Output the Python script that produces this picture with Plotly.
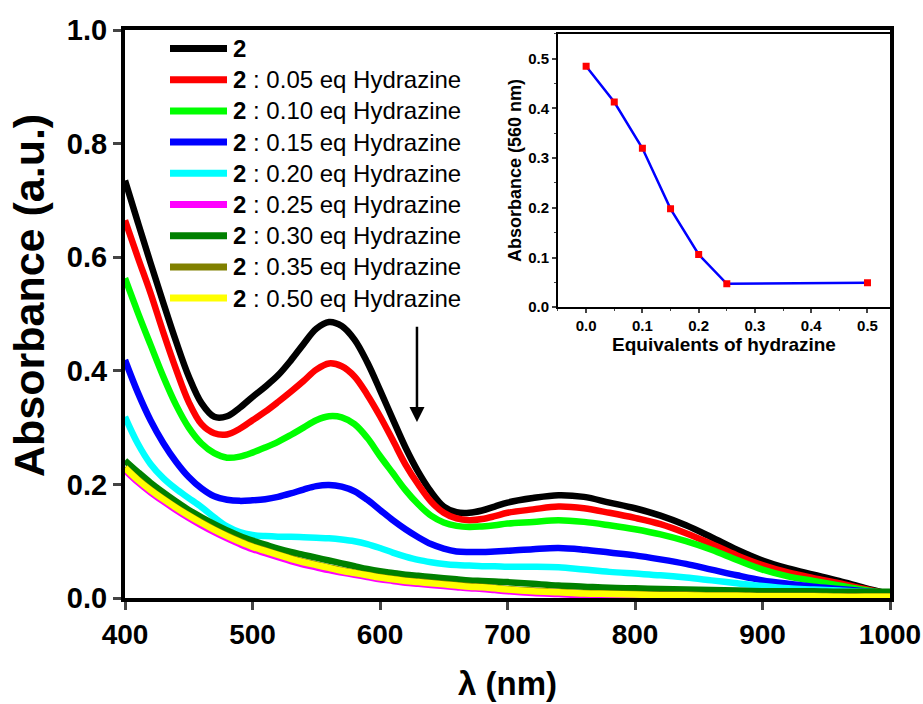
import plotly.graph_objects as go

# ---------------- data ----------------
wavelength = [400, 410, 420, 430, 440, 450, 460, 470, 480, 490, 500, 510, 520, 530, 540, 550,
              560, 570, 580, 590, 600, 610, 620, 630, 640, 650, 660, 670, 680, 690, 700,
              720, 740, 760, 780, 800, 820, 840, 860, 880, 900, 920, 940, 960, 980, 1000]

abs_2 = [0.735, 0.662, 0.590, 0.520, 0.452, 0.390, 0.343, 0.319, 0.320, 0.335, 0.354, 0.372, 0.392, 0.418, 0.447, 0.474,
         0.486, 0.479, 0.455, 0.415, 0.366, 0.315, 0.265, 0.222, 0.187, 0.161, 0.151, 0.150, 0.154, 0.161, 0.168,
         0.176, 0.181, 0.178, 0.168, 0.158, 0.145, 0.128, 0.107, 0.085, 0.066, 0.052, 0.041, 0.030, 0.018, 0.007]
abs_005 = [0.665, 0.600, 0.537, 0.468, 0.403, 0.345, 0.306, 0.290, 0.288, 0.298, 0.313, 0.328, 0.345, 0.363, 0.382, 0.402,
           0.413, 0.408, 0.390, 0.358, 0.320, 0.278, 0.235, 0.200, 0.170, 0.150, 0.140, 0.137, 0.139, 0.144, 0.150,
           0.156, 0.161, 0.158, 0.150, 0.141, 0.130, 0.114, 0.095, 0.075, 0.058, 0.045, 0.035, 0.026, 0.016, 0.007]
abs_010 = [0.563, 0.503, 0.446, 0.390, 0.340, 0.300, 0.272, 0.255, 0.247, 0.249, 0.256, 0.265, 0.275, 0.287, 0.300, 0.313,
           0.320, 0.318, 0.306, 0.282, 0.250, 0.220, 0.190, 0.165, 0.145, 0.133, 0.127, 0.125, 0.126, 0.128, 0.131,
           0.134, 0.137, 0.134, 0.128, 0.121, 0.112, 0.100, 0.085, 0.067, 0.050, 0.038, 0.030, 0.022, 0.014, 0.007]
abs_015 = [0.419, 0.362, 0.313, 0.273, 0.240, 0.213, 0.193, 0.179, 0.173, 0.171, 0.172, 0.174, 0.178, 0.184, 0.191, 0.197,
           0.199, 0.196, 0.188, 0.173, 0.155, 0.137, 0.121, 0.107, 0.095, 0.087, 0.082, 0.081, 0.081, 0.082, 0.083,
           0.086, 0.088, 0.085, 0.080, 0.075, 0.068, 0.060, 0.050, 0.040, 0.031, 0.025, 0.020, 0.016, 0.012, 0.008]
abs_020 = [0.319, 0.272, 0.236, 0.211, 0.192, 0.176, 0.160, 0.142, 0.126, 0.116, 0.111, 0.109, 0.108, 0.108, 0.107, 0.106,
           0.105, 0.103, 0.100, 0.095, 0.088, 0.080, 0.073, 0.067, 0.063, 0.060, 0.058, 0.057, 0.056, 0.056, 0.055,
           0.055, 0.054, 0.050, 0.046, 0.043, 0.040, 0.036, 0.031, 0.026, 0.021, 0.017, 0.015, 0.013, 0.011, 0.010]
abs_025 = [0.225, 0.204, 0.186, 0.170, 0.155, 0.141, 0.128, 0.116, 0.105, 0.095, 0.086, 0.079, 0.072, 0.065, 0.059, 0.054,
           0.049, 0.045, 0.041, 0.037, 0.033, 0.030, 0.027, 0.025, 0.023, 0.021, 0.019, 0.017, 0.016, 0.014, 0.012,
           0.009, 0.007, 0.005, 0.004, 0.003, 0.003, 0.002, 0.002, 0.001, 0.001, 0.001, 0.001, 0.000, 0.000, 0.000]
abs_030 = [0.242, 0.222, 0.203, 0.186, 0.170, 0.155, 0.142, 0.130, 0.119, 0.109, 0.101, 0.094, 0.087, 0.081, 0.076, 0.071,
           0.066, 0.061, 0.056, 0.051, 0.047, 0.044, 0.041, 0.039, 0.037, 0.035, 0.033, 0.031, 0.030, 0.029, 0.028,
           0.025, 0.022, 0.020, 0.018, 0.017, 0.016, 0.015, 0.014, 0.013, 0.012, 0.012, 0.012, 0.011, 0.011, 0.011]
abs_035 = [0.230, 0.209, 0.191, 0.175, 0.160, 0.146, 0.133, 0.121, 0.110, 0.100, 0.091, 0.084, 0.077, 0.070, 0.064, 0.059,
           0.054, 0.049, 0.045, 0.041, 0.037, 0.034, 0.031, 0.029, 0.027, 0.025, 0.023, 0.021, 0.020, 0.018, 0.016,
           0.013, 0.011, 0.009, 0.008, 0.007, 0.006, 0.006, 0.005, 0.005, 0.004, 0.004, 0.004, 0.003, 0.003, 0.003]
abs_050 = [0.229, 0.208, 0.190, 0.174, 0.159, 0.145, 0.132, 0.120, 0.109, 0.099, 0.090, 0.083, 0.076, 0.069, 0.063, 0.058,
           0.053, 0.048, 0.044, 0.040, 0.036, 0.033, 0.030, 0.028, 0.026, 0.024, 0.022, 0.020, 0.019, 0.017, 0.015,
           0.012, 0.010, 0.008, 0.007, 0.006, 0.005, 0.005, 0.004, 0.004, 0.003, 0.003, 0.003, 0.002, 0.002, 0.002]

series_values = [abs_2, abs_005, abs_010, abs_015, abs_020, abs_025, abs_030, abs_035, abs_050]
series_names = ["<b>2</b>",
                "<b>2</b> : 0.05 eq Hydrazine", "<b>2</b> : 0.10 eq Hydrazine",
                "<b>2</b> : 0.15 eq Hydrazine", "<b>2</b> : 0.20 eq Hydrazine",
                "<b>2</b> : 0.25 eq Hydrazine", "<b>2</b> : 0.30 eq Hydrazine",
                "<b>2</b> : 0.35 eq Hydrazine", "<b>2</b> : 0.50 eq Hydrazine"]
series_colors = ["#000000", "#ff0000", "#00ff00", "#0000ff", "#00ffff",
                 "#ff00ff", "#008000", "#808000", "#ffff00"]

# inset data
equivalents = [0.0, 0.05, 0.10, 0.15, 0.20, 0.25, 0.50]
abs_560 = [0.485, 0.413, 0.320, 0.198, 0.106, 0.047, 0.049]

x_ticks = [400, 500, 600, 700, 800, 900, 1000]
y_ticks = [0.0, 0.2, 0.4, 0.6, 0.8, 1.0]
inset_ticks = [0.0, 0.1, 0.2, 0.3, 0.4, 0.5]

# ---------------- figure ----------------
W, H = 923, 704
ML, MR, MT, MB = 125, 33, 30, 106
PW, PH = W - ML - MR, H - MT - MB

def px_to_paper_x(px):
    return (px - ML) / PW

def px_to_paper_y(py):
    return (H - MB - py) / PH

fig = go.Figure()
for vals, name, col in zip(series_values, series_names, series_colors):
    fig.add_trace(go.Scatter(x=wavelength, y=vals, mode="lines", name=name,
                             line=dict(color=col, width=6.5, shape="spline", smoothing=1.0),
                             showlegend=False, xaxis="x", yaxis="y"))

fig.add_trace(go.Scatter(x=equivalents, y=abs_560, mode="lines+markers",
                         line=dict(color="#0000ff", width=2.5),
                         marker=dict(symbol="square", size=7, color="#ff0000"),
                         showlegend=False, xaxis="x2", yaxis="y2"))

font_fam = "Liberation Sans, Arial, sans-serif"

fig.update_layout(
    width=W, height=H,
    margin=dict(l=ML, r=MR, t=MT, b=MB),
    paper_bgcolor="white", plot_bgcolor="white",
    font=dict(family=font_fam, color="black"),
    xaxis=dict(range=[400, 1000], tickvals=x_ticks, ticks="outside", ticklen=8, tickwidth=3,
               showline=True, linewidth=4, linecolor="black", mirror=True, showgrid=False,
               zeroline=False, automargin=False, tickfont=dict(size=28, weight="bold"),
               title=dict(text="λ (nm)", font=dict(size=33, weight="bold"), standoff=24)),
    yaxis=dict(range=[0, 1.0], tickvals=y_ticks, tickformat=".1f", ticks="outside", ticklen=8,
               tickwidth=3, showline=True, linewidth=4, linecolor="black", mirror=True,
               showgrid=False, zeroline=False, automargin=False, tickfont=dict(size=29, weight="bold")),
    xaxis2=dict(domain=[0.566, 1.0], anchor="y2", range=[-0.05, 0.54],
                tickvals=inset_ticks, tickformat=".1f",
                ticks="outside", ticklen=4, tickwidth=1.5,
                minor=dict(dtick=0.05, tick0=0, ticks="outside", ticklen=2, tickwidth=1),
                showline=True, linewidth=2, linecolor="black", mirror=True, showgrid=False,
                zeroline=False, automargin=False, tickfont=dict(size=15, weight="bold"),
                title=dict(text="Equivalents of hydrazine", font=dict(size=19, weight="bold"), standoff=0)),
    yaxis2=dict(domain=[0.512, 0.993], anchor="x2", range=[0, 0.55],
                tickvals=inset_ticks, tickformat=".1f",
                ticks="outside", ticklen=4, tickwidth=1.5,
                minor=dict(dtick=0.05, tick0=0, ticks="outside", ticklen=2, tickwidth=1),
                showline=True, linewidth=2, linecolor="black", mirror=True, showgrid=False,
                zeroline=False, automargin=False, tickfont=dict(size=15, weight="bold"),
                title=dict(text="Absorbance (560 nm)", font=dict(size=18, weight="bold"), standoff=2)),
)

# main y-axis title (placed as annotation to match its position)
fig.add_annotation(xref="paper", yref="paper", x=px_to_paper_x(29), y=px_to_paper_y(296),
                   xanchor="center", yanchor="middle", showarrow=False, textangle=-90,
                   text="<b>Absorbance (a.u.)</b>", font=dict(size=43, color="black", family=font_fam))

# manual legend (top-left)
row0, row_step = 48.5, 31.2
for i, (name, col) in enumerate(zip(series_names, series_colors)):
    ypx = row0 + i * row_step
    yp = px_to_paper_y(ypx)
    fig.add_shape(type="line", xref="paper", yref="paper",
                  x0=px_to_paper_x(170), x1=px_to_paper_x(227), y0=yp, y1=yp,
                  line=dict(color=col, width=7))
    fig.add_annotation(xref="paper", yref="paper", x=px_to_paper_x(231), y=yp,
                       xanchor="left", yanchor="middle", showarrow=False,
                       text=name, font=dict(size=24, color="black", family=font_fam))

# arrow indicating decrease
fig.add_annotation(x=629, y=0.31, ax=629, ay=0.48, xref="x", yref="y", axref="x", ayref="y",
                   showarrow=True, arrowhead=2, arrowsize=1.2, arrowwidth=2.5, arrowcolor="black", text="")

fig.write_html("out.html")
